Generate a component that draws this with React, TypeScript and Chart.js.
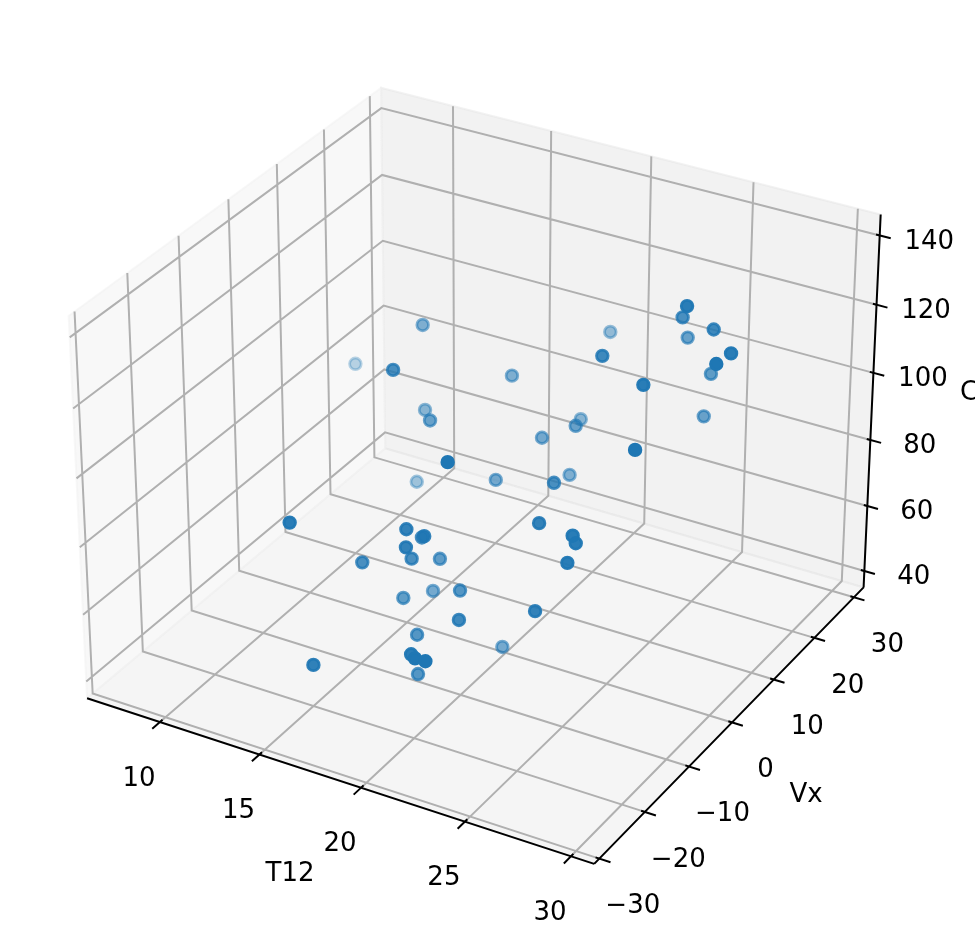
import React, { useEffect, useRef } from "react";
import { Chart, registerables } from "chart.js";
Chart.register(...registerables);

const T12 = [13.38,8.18,15.78,17.29,13.80,15.88,21.10,13.07,18.39,19.66,21.35,19.80,20.54,22.83,23.85,25.74,25.93,25.83,15.49,19.14,19.85,18.59,19.31,18.44,18.31,16.68,27.46,25.78,27.59,24.57,19.39,23.83,29.52,29.63,26.35,26.71,26.01,27.63,17.38,17.24,19.97,21.40,24.62,18.86,20.44,21.19,21.95,22.35,19.31,17.45];
const Vx = [10.88,18.08,-5.74,13.41,9.46,1.57,-17.39,10.66,4.91,9.50,9.33,17.74,11.83,-2.32,-10.22,-11.59,-11.78,-13.11,-25.96,-17.58,-16.93,-12.00,-18.43,-13.55,-6.99,-16.39,4.98,12.35,10.69,19.68,26.37,3.50,5.14,1.20,16.57,-0.94,16.82,-6.99,-10.86,-3.89,-9.93,-16.45,-14.50,-14.33,-2.74,-25.57,-28.03,-27.62,-16.13,-29.78];
const O3 = [109.1,81.0,118.3,97.7,86.1,95.5,114.3,61.7,78.3,87.7,94.3,84.0,75.4,93.7,93.2,94.6,93.0,88.8,97.4,91.9,90.4,81.8,88.0,77.2,68.9,76.4,143.6,129.7,131.0,113.9,99.8,125.3,133.5,135.1,109.7,126.8,96.4,116.9,60.3,53.5,66.1,68.2,74.3,56.4,41.0,69.3,72.7,72.1,47.8,64.5];

const xTicks = [10, 15, 20, 25, 30];
const yTicks = [-30, -20, -10, 0, 10, 20, 30];
const zTicks = [40, 60, 80, 100, 120, 140];
const xLim = [6.27, 31.08];
const yLim = [-31.1, 32.5];
const zLim = [34.9, 146.0];

// matplotlib's default 3D view: elev 30, azim -60, dist 10, box aspect 4:4:3
const U = [0.8660254, 0.5, 0];
const V = [-0.25, 0.4330127, 0.8660254];
const W = [0.4330127, -0.75, 0.5];
const K = (1.8294640721620434 * 25) / 24 / Math.hypot(4, 4, 3);
const BOX = [4 * K, 4 * K, 3 * K];
const S = 4880, OX = 482.5, OY = 457.2;

const dot = (a: number[], b: number[]) => a[0] * b[0] + a[1] * b[1] + a[2] * b[2];
const centred = (a: number, b: number, c: number) => [(a - 0.5) * BOX[0], (b - 0.5) * BOX[1], (c - 0.5) * BOX[2]];
const fx = (x: number) => (x - xLim[0]) / (xLim[1] - xLim[0]);
const fy = (y: number) => (y - yLim[0]) / (yLim[1] - yLim[0]);
const fz = (z: number) => (z - zLim[0]) / (zLim[1] - zLim[0]);
function proj(a: number, b: number, c: number) {
  const p = centred(a, b, c);
  const den = 10 - dot(p, W);
  return { x: dot(p, U) / den, y: dot(p, V) / den };
}
const depth = (a: number, b: number, c: number) => dot(centred(a, b, c), W);
const GAP = { x: NaN, y: NaN };

const grid: any[] = [];
xTicks.forEach((t) => grid.push(proj(fx(t), 1, 1), proj(fx(t), 1, 0), proj(fx(t), 0, 0), GAP));
yTicks.forEach((t) => grid.push(proj(0, fy(t), 1), proj(0, fy(t), 0), proj(1, fy(t), 0), GAP));
zTicks.forEach((t) => grid.push(proj(0, 0, fz(t)), proj(0, 1, fz(t)), proj(1, 1, fz(t)), GAP));

const marks: any[] = [];
xTicks.forEach((t) => marks.push(proj(fx(t), 0.008, 0), proj(fx(t), -0.024, 0), GAP));
yTicks.forEach((t) => marks.push(proj(0.993, fy(t), 0), proj(1.021, fy(t), 0), GAP));
zTicks.forEach((t) => marks.push(proj(0.993, 1, fz(t)), proj(1.021, 1, fz(t)), GAP));

const axisLines = [
  proj(0, 0, 0), proj(1, 0, 0), GAP,
  proj(1, 0, 0), proj(1, 1, 0), GAP,
  proj(1, 1, 0), proj(1, 1, 1),
];

const pane = (corners: number[][]) => [...corners, corners[0]].map((c) => proj(c[0], c[1], c[2]));
const paneX = pane([[0,0,0],[0,1,0],[0,1,1],[0,0,1]]);
const paneY = pane([[0,1,0],[1,1,0],[1,1,1],[0,1,1]]);
const paneZ = pane([[0,0,0],[1,0,0],[1,1,0],[0,1,0]]);

const order = T12.map((_, i) => i);
const depths = T12.map((t, i) => depth(fx(t), fy(Vx[i]), fz(O3[i])));
order.sort((a, b) => depths[a] - depths[b]);
const dMin = Math.min(...depths), dMax = Math.max(...depths);
const colour = (i: number) => `rgba(31,119,180,${(0.3 + (0.7 * (depths[i] - dMin)) / (dMax - dMin)).toFixed(3)})`;

const labelFont = "26px 'DejaVu Sans'";
const labels: { text: string; at: { x: number; y: number }; dx: number; dy: number }[] = [
  ...xTicks.map((t) => ({ text: String(t), at: proj(fx(t), 0, 0), dx: -21, dy: 57 })),
  ...yTicks.map((t) => ({ text: String(t).replace("-", "\u2212"), at: proj(1, fy(t), 0), dx: 33.5, dy: 48 })),
  ...zTicks.map((t) => ({ text: String(t), at: proj(1, 1, fz(t)), dx: 49.5, dy: 6.5 })),
];
const titles = [
  { text: "T12", px: 290, py: 874, align: "center" as CanvasTextAlign },
  { text: "Vx", px: 806, py: 795, align: "center" as CanvasTextAlign },
  { text: "CO", px: 960, py: 393, align: "left" as CanvasTextAlign },
];

const textPlugin = {
  id: "axisText",
  afterDatasetsDraw(chart: any) {
    const { ctx, scales } = chart;
    ctx.save();
    ctx.fillStyle = "#000";
    ctx.font = labelFont;
    ctx.textBaseline = "middle";
    ctx.textAlign = "center";
    labels.forEach((l) => ctx.fillText(l.text, scales.x.getPixelForValue(l.at.x) + l.dx, scales.y.getPixelForValue(l.at.y) + l.dy));
    titles.forEach((t) => { ctx.textAlign = t.align; ctx.fillText(t.text, t.px, t.py); });
    ctx.restore();
  },
};

const lineSet = (data: any[], color: string, width: number, ord: number) => ({
  data, borderColor: color, borderWidth: width, showLine: true, pointRadius: 0, fill: false, tension: 0, spanGaps: false, order: ord, clip: false,
});
const paneSet = (data: any[], fillColor: string, ord: number) => ({
  data, backgroundColor: fillColor, borderColor: fillColor, borderWidth: 2, showLine: true, pointRadius: 0, fill: "shape", tension: 0, order: ord, clip: false,
});

export default function App() {
  const ref = useRef<HTMLCanvasElement>(null);
  useEffect(() => {
    const chart = new Chart(ref.current!, {
      type: "scatter",
      data: {
        datasets: [
          {
            data: order.map((i) => proj(fx(T12[i]), fy(Vx[i]), fz(O3[i]))),
            backgroundColor: order.map(colour),
            borderColor: order.map(colour),
            pointRadius: 5.8,
            borderWidth: 2.8,
            order: 0,
            clip: false,
          } as any,
          lineSet(marks, "#000", 2, 1),
          lineSet(axisLines, "#000", 2, 2),
          lineSet(grid, "#b0b0b0", 2, 3),
          paneSet(paneX, "rgba(242,242,242,0.5)", 4),
          paneSet(paneY, "rgba(230,230,230,0.5)", 5),
          paneSet(paneZ, "rgba(236,236,236,0.5)", 6),
        ],
      },
      options: {
        animation: false,
        responsive: false,
        layout: { padding: 0, autoPadding: false },
        plugins: { legend: { display: false }, tooltip: { enabled: false } },
        scales: {
          x: { type: "linear", display: false, min: -OX / S, max: (975 - OX) / S },
          y: { type: "linear", display: false, min: (OY - 946) / S, max: OY / S },
        },
      },
      plugins: [textPlugin],
    } as any);
    return () => chart.destroy();
  }, []);
  return <canvas ref={ref} width={975} height={946} style={{ position: "absolute", left: 0, top: 0, display: "block" }} />;
}
